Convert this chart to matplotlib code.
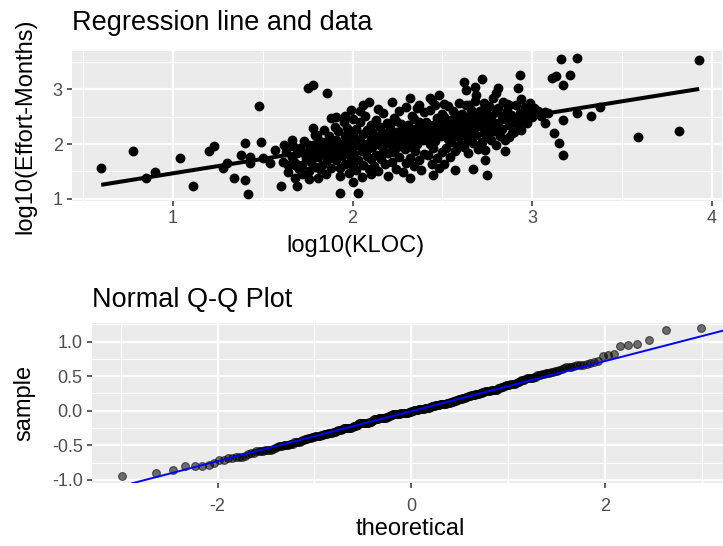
import numpy as np
import matplotlib.pyplot as plt
from statistics import NormalDist

plt.rcParams['font.family'] = ['Liberation Sans', 'DejaVu Sans']
plt.rcParams['axes.unicode_minus'] = False

# log10 size (KLOC) and log10 effort (person-months) per project
log_kloc = [
    0.60, 0.78, 0.85, 0.90, 1.04, 1.11, 1.20, 1.23, 1.28, 1.30,
    1.34, 1.40, 1.40, 1.38, 1.42, 1.43, 1.43, 1.48, 1.49, 1.50,
    1.54, 1.57, 1.60, 1.64, 1.66, 1.62, 1.68, 1.69, 1.68, 1.72,
    1.73, 1.75, 1.78, 1.86, 1.76, 1.78, 1.79, 1.78, 1.78, 1.81,
    1.82, 1.83, 1.88, 1.91, 1.96, 1.99, 2.06, 2.09, 2.22, 2.32,
    2.37, 2.43, 2.48, 2.51, 1.93, 2.03, 2.00, 1.93, 2.32, 2.45,
    2.51, 2.57, 2.10, 3.16, 3.25, 3.11, 3.13, 3.21, 3.17, 2.93,
    2.92, 2.72, 2.62, 2.63, 2.68, 2.69, 2.81, 2.80, 2.86, 2.74,
    2.65, 3.01, 2.96, 3.07, 3.07, 3.17, 3.25, 3.12, 3.15, 3.17,
    2.90, 2.87, 2.85, 2.80, 2.74, 2.75, 2.67, 2.58, 2.64, 3.93,
    3.82, 3.59, 3.33, 3.38,
    1.61, 1.63, 1.64, 1.66, 1.67, 1.68, 1.69, 1.70, 1.71, 1.72,
    1.73, 1.74, 1.75, 1.76, 1.76, 1.77, 1.78, 1.79, 1.80, 1.80,
    1.81, 1.81, 1.82, 1.83, 1.84, 1.84, 1.85, 1.85,
    1.86, 1.87, 1.87, 1.88, 1.88, 1.89, 1.90, 1.90,
    1.91, 1.91, 1.92, 1.92, 1.93, 1.94, 1.94, 1.95, 1.95, 1.96,
    1.96, 1.97, 1.97, 1.98, 1.98, 1.99, 1.99, 2.00, 2.00, 2.00,
    2.01, 2.01, 2.02, 2.02, 2.03, 2.03, 2.04, 2.04, 2.05, 2.05, 2.06,
    2.06, 2.07, 2.07, 2.08, 2.08, 2.09, 2.09, 2.10, 2.10, 2.10, 2.04,
    2.11, 2.11, 2.12, 2.12, 2.13, 2.13, 2.14, 2.14, 2.15, 2.15, 2.16,
    2.16, 2.17, 2.17, 2.18, 2.18, 2.19, 2.19, 2.20, 2.20, 2.20, 2.14,
    2.21, 2.21, 2.22, 2.22, 2.23, 2.23, 2.24, 2.24, 2.25, 2.25, 2.26,
    2.26, 2.27, 2.27, 2.28, 2.28, 2.29, 2.29, 2.30, 2.30, 2.30, 2.24,
    2.31, 2.31, 2.32, 2.32, 2.33, 2.33, 2.34, 2.34, 2.35, 2.35, 2.36,
    2.36, 2.37, 2.37, 2.38, 2.38, 2.39, 2.39, 2.40, 2.40, 2.40, 2.34,
    2.41, 2.41, 2.42, 2.42, 2.43, 2.43, 2.44, 2.44, 2.45, 2.45, 2.46,
    2.46, 2.47, 2.47, 2.48, 2.48, 2.49, 2.49, 2.50, 2.50, 2.50, 2.44,
    2.51, 2.51, 2.52, 2.52, 2.53, 2.53, 2.54, 2.54, 2.55, 2.55,
    2.56, 2.56, 2.57, 2.57, 2.58, 2.58, 2.59, 2.59, 2.60, 2.60,
    2.61, 2.61, 2.62, 2.62, 2.63, 2.63, 2.64, 2.64, 2.65, 2.65,
    2.66, 2.66, 2.67, 2.67, 2.68, 2.68, 2.69, 2.69, 2.70, 2.70,
    2.71, 2.71, 2.72, 2.72, 2.73, 2.73, 2.74, 2.74, 2.75,
    2.75, 2.76, 2.76, 2.77, 2.77, 2.78, 2.78, 2.79, 2.80,
    2.81, 2.81, 2.82, 2.83, 2.83, 2.84, 2.85, 2.85, 2.86, 2.87,
    2.87, 2.88, 2.89, 2.90, 2.91, 2.91, 2.92, 2.93, 2.94, 2.94,
    2.95, 2.96, 2.97, 2.98, 2.99, 3.00, 3.03, 3.05, 3.09,
]
log_effort = [
    1.56, 1.87, 1.38, 1.49, 1.75, 1.24, 1.87, 1.97, 1.57, 1.65,
    1.37, 1.35, 2.02, 1.80, 1.08, 1.77, 1.65, 2.69, 2.03, 1.74,
    1.66, 1.89, 1.23, 1.62, 2.07, 1.98, 1.37, 1.24, 1.62, 1.46,
    1.83, 3.03, 3.07, 2.94, 1.36, 2.29, 2.17, 1.98, 1.80, 1.37,
    1.54, 2.04, 2.47, 2.50, 2.52, 2.62, 2.71, 2.76, 2.76, 2.84,
    2.71, 2.84, 2.90, 2.74, 1.10, 1.10, 1.31, 1.42, 1.38, 1.43,
    1.63, 1.53, 1.46, 3.55, 3.58, 3.21, 3.25, 3.26, 3.08, 3.27,
    3.03, 3.19, 3.13, 2.99, 3.05, 2.90, 3.02, 2.93, 2.74, 2.71,
    2.71, 2.65, 2.53, 2.59, 2.38, 2.44, 2.56, 2.21, 2.01, 1.80,
    2.22, 2.13, 1.87, 1.98, 1.71, 1.44, 1.54, 1.92, 2.07, 3.54,
    2.23, 2.12, 2.52, 2.68,
    1.68, 1.86, 1.48, 1.76, 1.96, 1.66, 1.84, 1.54, 1.92, 1.62,
    2.06, 1.74, 1.86, 1.51, 1.98, 1.68, 1.82, 1.58, 1.91, 2.16,
    1.76, 2.08, 1.91, 1.62, 2.26, 1.84, 1.46, 1.98,
    1.70, 2.14, 1.88, 1.56, 2.02, 1.79, 2.32, 1.94,
    1.70, 2.08, 1.88, 2.24, 1.56, 2.00, 1.78, 2.40, 1.93, 1.64,
    2.14, 1.85, 2.30, 1.47, 2.04, 1.74, 2.19, 1.96, 1.60, 2.45,
    1.82, 2.12, 1.52, 2.28, 1.98, 1.70, 2.05, 2.40, 1.88, 1.40, 2.18,
    1.62, 2.00, 2.52, 1.78, 2.26, 1.93, 1.55, 2.10, 2.34, 1.72, 2.60,
    1.95, 2.22, 1.60, 2.05, 1.80, 2.44, 2.14, 1.50, 1.98, 2.32, 1.72,
    2.08, 2.56, 1.88, 2.20, 1.64, 2.02, 2.38, 1.84, 2.12, 1.42, 2.64,
    2.00, 2.30, 1.68, 2.15, 1.86, 2.48, 2.06, 1.55, 2.22, 1.94, 2.60,
    1.76, 2.12, 2.36, 1.48, 2.02, 1.90, 2.26, 2.68, 1.66, 2.10, 2.42,
    2.05, 2.34, 1.75, 2.20, 1.95, 2.52, 2.12, 1.60, 2.28, 1.88, 2.66,
    2.00, 1.70, 2.40, 2.16, 1.52, 2.08, 2.30, 1.82, 2.58, 2.22, 2.46,
    2.10, 2.40, 1.80, 2.26, 2.00, 2.62, 2.18, 1.64, 2.34, 1.92, 2.72,
    2.06, 1.74, 2.48, 2.22, 1.56, 2.14, 2.38, 1.86, 2.54, 2.28, 2.80,
    2.21, 2.49, 1.93, 2.35, 2.09, 2.69, 2.29, 1.77, 2.43, 2.03,
    2.61, 2.17, 1.87, 2.37, 2.53, 2.25, 2.13, 2.75, 2.41, 2.00,
    2.27, 2.55, 1.95, 2.41, 2.15, 2.71, 2.35, 1.83, 2.49, 2.09,
    2.63, 2.23, 2.01, 2.45, 2.79, 2.31, 2.17, 2.57, 2.39, 1.91,
    2.33, 2.61, 2.03, 2.47, 2.21, 2.75, 2.41, 1.89, 2.55,
    2.15, 2.69, 2.29, 2.07, 2.49, 2.85, 2.37, 2.23, 2.59,
    2.39, 2.65, 2.15, 2.51, 2.27, 2.77, 2.45, 2.07, 2.61, 2.35,
    2.71, 2.53, 2.21, 2.43, 2.49, 2.71, 2.35, 2.57, 2.25, 2.83,
    2.45, 2.67, 2.39, 2.55, 2.75, 2.49, 2.60, 2.52, 2.57,
]

reg_xticks = [1, 2, 3, 4]
reg_yticks = [1, 2, 3]
qq_xticks = [-2, 0, 2]
qq_yticks = [-1.0, -0.5, 0.0, 0.5, 1.0]
qq_ytick_labels = ['-1.0', '-0.5', '0.0', '0.5', '1.0']

x = np.array(log_kloc)
y = np.array(log_effort)

# least-squares fit and its residuals
slope, intercept = np.polyfit(x, y, 1)
resid = y - (intercept + slope * x)

# normal Q-Q of the residuals, reference line through the quartiles
sample = np.sort(resid)
n = len(sample)
nd = NormalDist()
theoretical = np.array([nd.inv_cdf((i - 0.5) / n) for i in range(1, n + 1)])
q1, q3 = np.percentile(sample, [25, 75])
z1, z3 = nd.inv_cdf(0.25), nd.inv_cdf(0.75)
qq_slope = (q3 - q1) / (z3 - z1)
qq_int = q1 - qq_slope * z1


def gg_axes(ax):
    ax.set_facecolor('#EBEBEB')
    for sp in ax.spines.values():
        sp.set_visible(False)
    ax.set_axisbelow(True)
    ax.grid(which='major', color='white', lw=1.6)
    ax.grid(which='minor', color='white', lw=0.8)
    ax.tick_params(which='major', length=3.5, width=1.1, color='#333333',
                   labelcolor='#4D4D4D', labelsize=13, pad=3)
    ax.tick_params(which='minor', length=0)


fig = plt.figure(figsize=(7.23, 5.46), dpi=100)

# regression panel
ax1 = fig.add_axes([71.7 / 723, 1 - 201 / 546, 650.3 / 723, 150.3 / 546])
gg_axes(ax1)
ax1.scatter(x, y, s=50, color='black', linewidths=0, zorder=3)
xs = np.array([x.min(), x.max()])
ax1.plot(xs, intercept + slope * xs, color='black', lw=2.9,
         solid_capstyle='butt', zorder=4)
ax1.set_xlim(0.436, 4.057)
ax1.set_ylim(0.958, 3.706)
ax1.set_xticks(reg_xticks)
ax1.set_xticklabels([str(t) for t in reg_xticks])
ax1.set_yticks(reg_yticks)
ax1.set_yticklabels([str(t) for t in reg_yticks])
ax1.set_xticks([0.5, 1.5, 2.5, 3.5], minor=True)
ax1.set_yticks([1.5, 2.5, 3.5], minor=True)
ax1.set_title('Regression line and data', loc='left', fontsize=19.5, pad=15)

# Q-Q panel
ax2 = fig.add_axes([91.7 / 723, 1 - 483.3 / 546, 631.3 / 723, 160 / 546])
gg_axes(ax2)
ax2.tick_params(axis='x', pad=7)
ax2.scatter(theoretical, sample, s=32, color='black', alpha=0.55,
            edgecolors='black', linewidths=0.8, zorder=3)
ax2.axline((0, qq_int), slope=qq_slope, color='#0000FF', lw=1.4, zorder=4)
ax2.set_xlim(-3.30, 3.22)
ax2.set_ylim(-1.05, 1.266)
ax2.set_xticks(qq_xticks)
ax2.set_xticklabels([str(t) for t in qq_xticks])
ax2.set_yticks(qq_yticks)
ax2.set_yticklabels(qq_ytick_labels)
ax2.set_xticks([-3, -1, 1, 3], minor=True)
ax2.set_yticks([-0.75, -0.25, 0.25, 0.75, 1.25], minor=True)
ax2.set_title('Normal Q-Q Plot', loc='left', fontsize=19.5, pad=11.5)

# axis titles
fig.text(355 / 723, 1 - 246 / 546, 'log10(KLOC)', fontsize=17,
         ha='center', va='center')
fig.text(25.5 / 723, 1 - 126 / 546, 'log10(Effort-Months)', fontsize=17,
         rotation=90, ha='center', va='center')
fig.text(410 / 723, 1 - 529 / 546, 'theoretical', fontsize=17,
         ha='center', va='center')
fig.text(24 / 723, 1 - 403 / 546, 'sample', fontsize=17,
         rotation=90, ha='center', va='center')

fig.savefig('out.png', dpi=100)
